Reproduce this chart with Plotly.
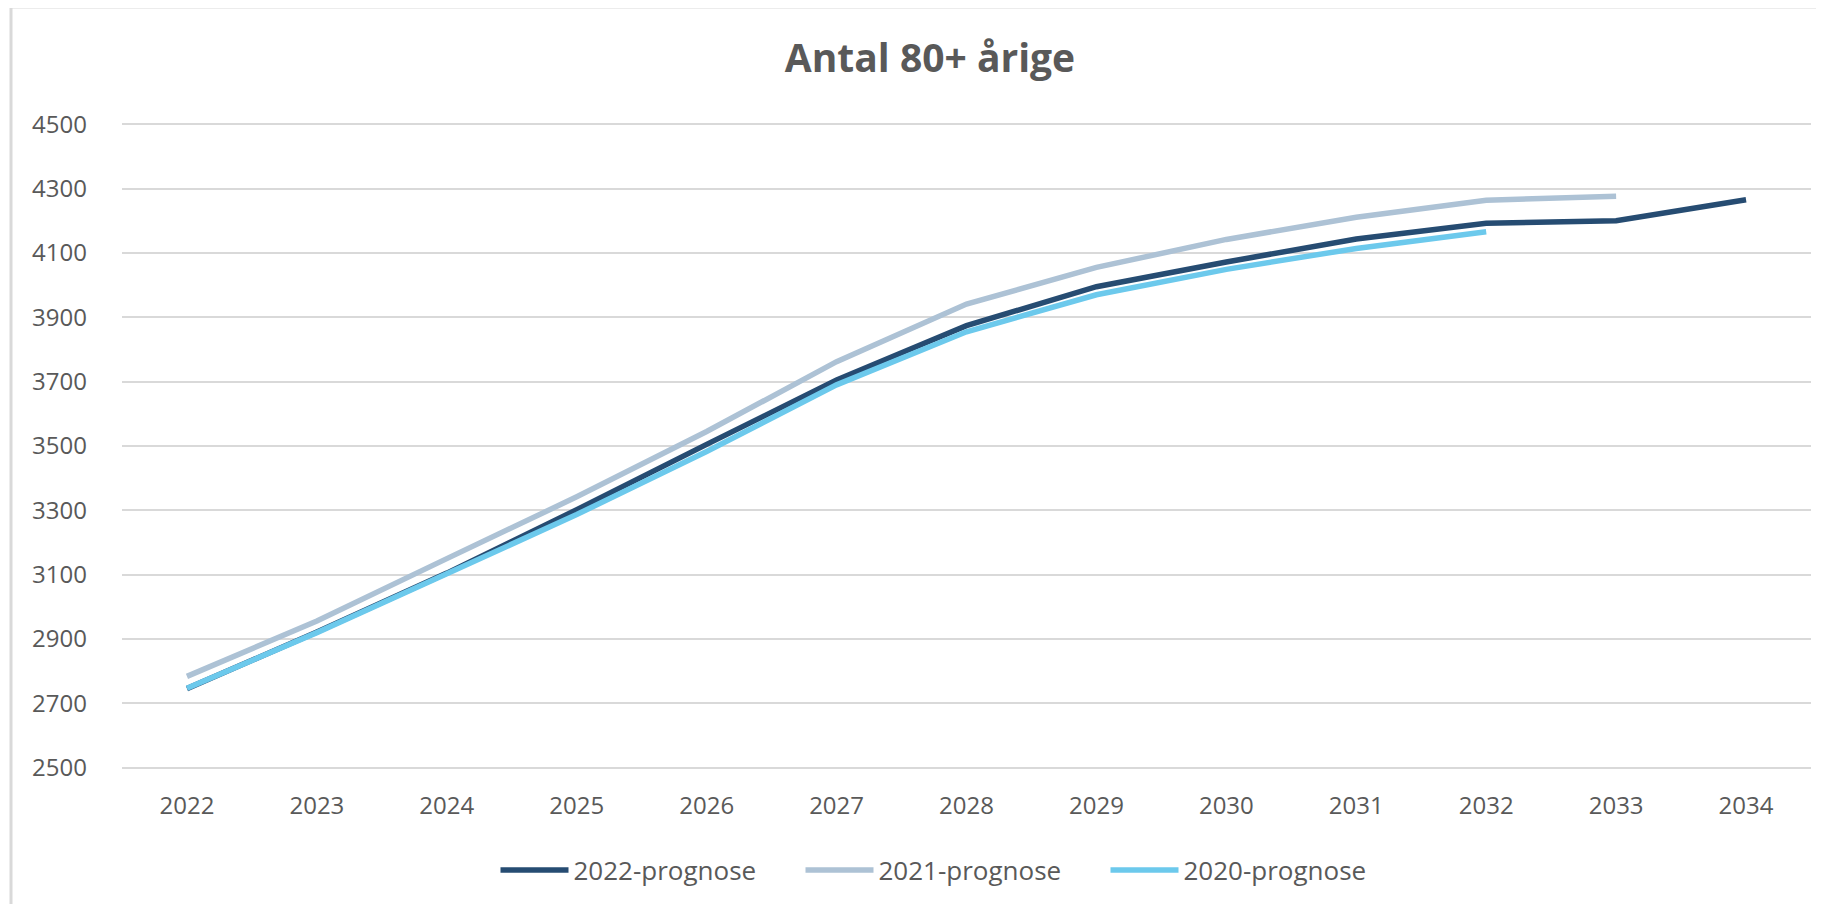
import plotly.graph_objects as go

years = [str(y) for y in range(2022, 2035)]
prog_2022 = [2746, 2922, 3105, 3302, 3505, 3705, 3874, 3995, 4072, 4143, 4192, 4200, 4265]
prog_2021 = [2784, 2956, 3150, 3342, 3545, 3762, 3941, 4055, 4142, 4211, 4264, 4276, None]
prog_2020 = [2747, 2920, 3103, 3287, 3483, 3690, 3855, 3970, 4049, 4114, 4166, None, None]

series_names = ["2022-prognose", "2021-prognose", "2020-prognose"]
series_vals = [prog_2022, prog_2021, prog_2020]
colors = ["#264C72", "#ADC2D5", "#6CC9EC"]

# page body has an 8px margin, so the figure is placed at (8, 8)
OFF = 8
W, H = 1808, 896
y_lo, y_hi = 2490, 4510          # small padding so the 2500/4500 gridlines show
px_per_unit = 644 / 2000
top_px = 124 - OFF - (y_hi - 4500) * px_per_unit
bot_px = 768 - OFF + (2500 - y_lo) * px_per_unit
L = 122 - OFF
plot_right = 1811 - OFF
T = round(top_px)
B = H - round(bot_px)
R = W - plot_right
pw, ph = plot_right - L, H - T - B
plot_bottom = H - B

fig = go.Figure()
for name, vals, col in zip(series_names, series_vals, colors):
    fig.add_trace(go.Scatter(
        x=years, y=vals, name=name, mode="lines",
        line=dict(color=col, width=5.5),
        connectgaps=False,
    ))

txt = "#595959"
fig.update_layout(
    width=W, height=H, autosize=False,
    margin=dict(l=L, r=R, t=T, b=B),
    paper_bgcolor="white", plot_bgcolor="white",
    font=dict(family="Open Sans", color=txt, size=24),
    title=dict(text="Antal 80+ årige", x=(930 - OFF) / W, xref="container", xanchor="center",
               y=1 - (58 - OFF) / H, yref="container", yanchor="middle",
               font=dict(family="Open Sans", size=39, color=txt, weight="bold")),
    xaxis=dict(type="category", range=[-0.5, 12.5], showgrid=False, zeroline=False,
               showline=False, ticks="", tickfont=dict(size=24, color=txt),
               ticklabelstandoff=18),
    yaxis=dict(range=[y_lo, y_hi], tickvals=list(range(2500, 4501, 200)),
               showgrid=True, gridcolor="#D9D9D9", gridwidth=1.5, zeroline=False,
               showline=False, ticks="", tickfont=dict(size=24, color=txt),
               ticklabelstandoff=34),
    legend=dict(orientation="h", x=(953 - OFF - L) / pw, xanchor="center",
                y=-(870 - OFF - plot_bottom) / ph, yanchor="middle",
                font=dict(size=26, color=txt), itemwidth=68,
                entrywidth=222, entrywidthmode="pixels",
                traceorder="normal"),
    showlegend=True,
)

fig.add_shape(type="rect", xref="paper", yref="paper",
              x0=(11 - OFF - L) / pw, x1=(1840 - L) / pw,
              y0=-(930 - plot_bottom) / ph, y1=(plot_bottom + 1) / ph,
              line=dict(color="#D9D9D9", width=3), fillcolor="rgba(0,0,0,0)",
              layer="below")

fig.write_html("out.html")
